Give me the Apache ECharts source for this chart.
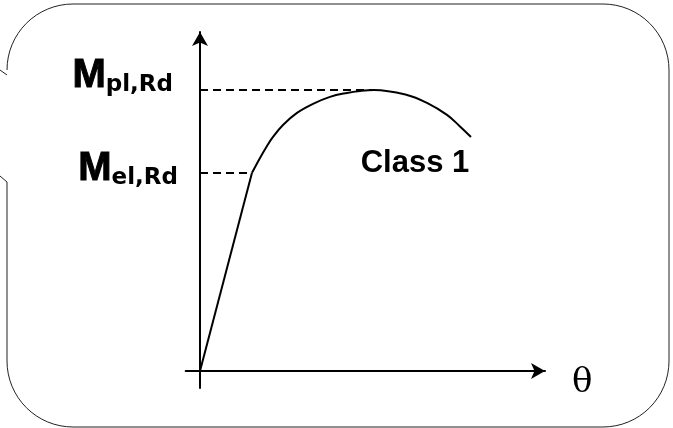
<!DOCTYPE html>
<html>
<head>
<meta charset="utf-8">
<script src="https://cdn.jsdelivr.net/npm/echarts@6/dist/echarts.min.js"></script>
<style>
  html, body { margin: 0; padding: 0; background: #fff; }
  #chart { width: 673px; height: 428px; }
</style>
</head>
<body>
<div id="chart"></div>
<script>
// moment-rotation curve, values (theta, M)
const linearPart = [[0, 0], [2.0, 70.5]];
const plasticPart = [
  [2.0, 70.5], [2.308, 75.8], [2.577, 80.07], [2.808, 83.27], [3.192, 87.54],
  [3.731, 91.81], [4.346, 95.02], [5.0, 97.51], [5.654, 98.93], [6.154, 99.64],
  [6.692, 100], [7.962, 98.22], [8.731, 95.37], [9.5, 91.1], [10.0, 87.01],
  [10.423, 83.27]
];
const mPl = 100;
const mEl = 70.5;
const thetaEl = 2.0;
const thetaPeak = 6.69;
const classLabel = 'Class 1';
const classPos = [8.27, 73.7];

const chart = echarts.init(document.getElementById('chart'));

const richM = {
  m: { fontSize: 40, fontWeight: 'bold', fontFamily: 'Liberation Sans', color: '#000', lineHeight: 40, textBorderColor: '#000', textBorderWidth: 1 },
  s: { fontSize: 23, fontWeight: 'bold', fontFamily: 'DejaVu Sans', color: '#000', lineHeight: 13, verticalAlign: 'bottom' }
};

function frame() {
  const st = { stroke: '#222', lineWidth: 1, fill: null };
  const r = 66, L = 7, T = 4, R = 669, B = 427;
  return [
    { type: 'line', shape: { x1: L + r, y1: T, x2: R - r, y2: T }, style: st },
    { type: 'line', shape: { x1: R, y1: T + r, x2: R, y2: B - r }, style: st },
    { type: 'line', shape: { x1: L + r, y1: B, x2: R - r, y2: B }, style: st },
    { type: 'line', shape: { x1: L, y1: 182, x2: L, y2: B - r }, style: st },
    { type: 'line', shape: { x1: 0, y1: 70, x2: L, y2: 75 }, style: st },
    { type: 'line', shape: { x1: 0, y1: 176, x2: L, y2: 182 }, style: st },
    { type: 'arc', shape: { cx: L + r, cy: T + r, r: r, startAngle: Math.PI, endAngle: Math.PI * 1.5 }, style: st },
    { type: 'arc', shape: { cx: R - r, cy: T + r, r: r, startAngle: Math.PI * 1.5, endAngle: Math.PI * 2 }, style: st },
    { type: 'arc', shape: { cx: R - r, cy: B - r, r: r, startAngle: 0, endAngle: Math.PI * 0.5 }, style: st },
    { type: 'arc', shape: { cx: L + r, cy: B - r, r: r, startAngle: Math.PI * 0.5, endAngle: Math.PI }, style: st }
  ];
}

const option = {
  backgroundColor: '#fff',
  animation: false,
  graphic: frame(),
  grid: { left: 185.7, right: 128, top: 32, bottom: 40 },
  xAxis: {
    type: 'value',
    min: -0.55,
    max: 13.27,
    name: 'θ',
    nameLocation: 'end',
    nameGap: 27,
    nameTextStyle: { fontFamily: 'DejaVu Serif', fontSize: 34, color: '#000', verticalAlign: 'top', padding: [-5, 0, 0, 0] },
    axisLine: { onZero: true, symbol: ['none', 'arrow'], symbolSize: [12, 14], lineStyle: { color: '#000', width: 2 } },
    axisTick: { show: false },
    axisLabel: { show: false },
    splitLine: { show: false }
  },
  yAxis: {
    type: 'value',
    min: -6.05,
    max: 120.6,
    axisLine: { onZero: true, symbol: ['none', 'arrow'], symbolSize: [12, 14], lineStyle: { color: '#000', width: 2 } },
    axisTick: { show: false },
    axisLabel: { show: false },
    splitLine: { show: false }
  },
  series: [
    {
      type: 'line',
      data: linearPart,
      symbol: 'none',
      lineStyle: { color: '#000', width: 2 },
      z: 3
    },
    {
      type: 'line',
      data: plasticPart,
      symbol: 'none',
      smooth: 0.4,
      lineStyle: { color: '#000', width: 2 },
      z: 3,
      markLine: {
        silent: true,
        symbol: ['none', 'none'],
        lineStyle: { color: '#000', width: 2, type: [8, 5] },
        data: [
          [
            { coord: [0, mPl], label: { show: true, position: 'start', distance: 27, fontWeight: 'bold', formatter: '{m|M}{s|pl,Rd}', rich: richM, padding: [0, 0, 27, 0] } },
            { coord: [thetaPeak, mPl] }
          ],
          [
            { coord: [0, mEl], label: { show: true, position: 'start', distance: 22, fontWeight: 'bold', formatter: '{m|M}{s|el,Rd}', rich: richM, padding: [0, 0, 7, 0] } },
            { coord: [thetaEl, mEl] }
          ]
        ]
      },
      markPoint: {
        silent: true,
        symbol: 'circle',
        symbolSize: 0,
        itemStyle: { color: 'transparent' },
        label: {
          show: true,
          position: 'inside',
          formatter: classLabel,
          fontFamily: 'Liberation Sans',
          fontWeight: 'bold',
          fontSize: 31,
          color: '#000'
        },
        data: [{ coord: classPos }]
      }
    }
  ]
};

chart.setOption(option);
</script>
</body>
</html>
